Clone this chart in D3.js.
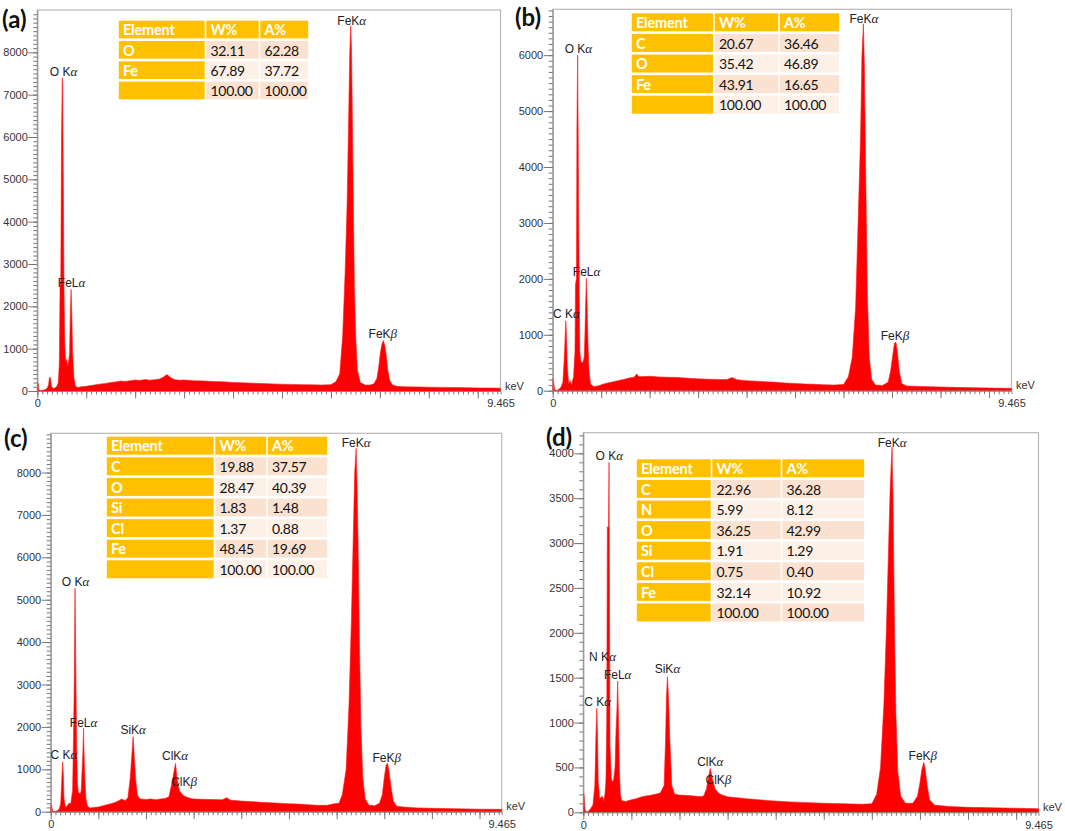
<!DOCTYPE html>
<html>
<head>
<meta charset="utf-8">
<title>EDS spectra</title>
<script src="https://d3js.org/d3.v7.min.js"></script>
<style>
  body { margin: 0; background: #fff; }
  svg { display: block; }
  .tick text { font-family: "Liberation Sans", Arial, sans-serif; font-size: 11px; fill: #333; }
  .kev { font-family: "Liberation Sans", Arial, sans-serif; font-size: 11px; fill: #333; }
  .peak { font-family: "Liberation Sans", Arial, sans-serif; font-size: 12px; fill: #222; }
  .peak .gr { font-family: "Liberation Serif", serif; font-style: italic; font-size: 13px; }
  .tag { font-family: Lato, sans-serif; font-weight: bold; font-size: 24px; fill: #111; }
  .cell { font-family: Lato, sans-serif; font-size: 14px; letter-spacing: -0.3px; fill: #111; }
  .cell.hd { font-weight: bold; font-size: 14.5px; letter-spacing: -0.2px; fill: #fff; }
</style>
</head>
<body>
<svg id="chart" width="1065" height="831"></svg>
<script>
// energy range of every spectrum (keV)
const keVMax = 9.465;

// spectra: [keV, counts]
const specA = [
  [0,0],[0.005,210],[0.02,180],[0.035,30],[0.06,0],[0.1,15],[0.15,30],[0.2,60],[0.23,150],[0.25,330],[0.27,300],[0.29,110],
  [0.32,60],[0.36,70],[0.4,110],[0.43,200],[0.45,650],[0.465,2450],[0.48,2600],[0.495,6000],[0.51,7400],[0.52,7200],
  [0.525,6000],[0.535,4400],[0.545,2500],[0.555,1500],[0.565,1000],[0.58,700],[0.6,750],[0.62,580],[0.64,700],[0.66,900],
  [0.675,1850],[0.69,2400],[0.705,1850],[0.72,950],[0.735,600],[0.75,300],[0.78,120],[0.82,80],[0.9,100],[1.0,110],
  [1.1,130],[1.2,150],[1.3,165],[1.4,180],[1.5,200],[1.6,215],[1.7,235],[1.8,225],[1.9,245],[2.0,260],[2.1,250],[2.2,272],
  [2.3,255],[2.4,268],[2.5,282],[2.58,330],[2.65,390],[2.72,320],[2.8,270],[2.9,255],[3.0,262],[3.2,242],[3.4,238],
  [3.6,222],[3.8,216],[4.0,202],[4.2,192],[4.4,186],[4.6,176],[4.8,168],[5.0,160],[5.2,156],[5.4,150],[5.6,146],[5.8,140],
  [6.0,150],[6.1,220],[6.18,400],[6.24,1300],[6.29,2800],[6.33,4400],[6.36,6300],[6.385,8000],[6.405,8630],[6.42,8100],
  [6.44,6300],[6.46,4200],[6.48,2400],[6.51,1200],[6.54,500],[6.6,200],[6.7,140],[6.8,140],[6.88,170],[6.94,300],
  [6.98,600],[7.01,900],[7.04,1100],[7.07,1190],[7.1,1080],[7.13,850],[7.16,500],[7.2,250],[7.26,140],[7.35,110],
  [7.5,100],[7.8,95],[8.0,90],[8.3,85],[8.6,80],[9.0,72],[9.3,70],[9.465,65]
];
const specB = [
  [0,0],[0.005,220],[0.02,160],[0.04,20],[0.08,0],[0.12,20],[0.17,60],[0.21,150],[0.24,600],[0.27,1250],[0.285,1000],
  [0.3,450],[0.33,120],[0.36,180],[0.39,100],[0.43,250],[0.46,700],[0.47,1900],[0.49,2000],[0.5,4700],[0.515,6000],
  [0.525,4700],[0.535,3300],[0.55,1500],[0.56,700],[0.58,520],[0.62,500],[0.65,600],[0.665,1000],[0.68,1550],[0.695,2010],
  [0.71,1550],[0.73,800],[0.75,350],[0.78,120],[0.85,70],[0.95,90],[1.05,120],[1.2,150],[1.35,180],[1.5,210],[1.6,232],
  [1.68,242],[1.73,300],[1.78,250],[1.9,252],[2.0,258],[2.2,246],[2.4,240],[2.6,236],[2.8,222],[3.0,212],[3.2,206],
  [3.4,202],[3.6,200],[3.7,235],[3.8,196],[4.0,180],[4.2,170],[4.4,160],[4.6,150],[4.8,136],[5.0,130],[5.2,120],
  [5.4,115],[5.6,105],[5.8,100],[6.0,110],[6.1,250],[6.18,600],[6.25,1500],[6.3,3000],[6.35,4500],[6.38,6000],[6.41,6560],
  [6.43,5800],[6.46,3700],[6.49,1800],[6.53,600],[6.58,200],[6.66,100],[6.8,95],[6.92,150],[6.97,350],[7.01,600],
  [7.05,850],[7.08,870],[7.11,700],[7.15,350],[7.2,130],[7.3,85],[7.6,75],[8.0,65],[8.5,55],[9.0,48],[9.465,42]
];
const specC = [
  [0,0],[0.005,170],[0.02,140],[0.04,20],[0.08,0],[0.13,20],[0.18,60],[0.21,200],[0.23,700],[0.25,1180],[0.265,900],
  [0.28,300],[0.31,100],[0.35,140],[0.38,200],[0.42,180],[0.46,500],[0.48,1850],[0.495,3100],[0.51,5270],[0.52,4300],
  [0.53,3100],[0.545,1500],[0.56,700],[0.58,450],[0.62,420],[0.64,500],[0.66,1000],[0.675,1400],[0.69,1970],[0.7,1400],
  [0.72,700],[0.74,300],[0.77,140],[0.82,90],[0.9,100],[1.0,110],[1.1,140],[1.2,170],[1.3,200],[1.4,240],[1.49,300],
  [1.56,260],[1.62,330],[1.67,800],[1.7,1300],[1.73,1770],[1.75,1400],[1.78,800],[1.82,380],[1.88,300],[2.0,290],
  [2.1,302],[2.2,282],[2.3,300],[2.4,310],[2.48,350],[2.54,650],[2.58,900],[2.62,1140],[2.65,800],[2.7,500],[2.78,380],
  [2.84,350],[2.9,322],[3.0,302],[3.2,292],[3.4,286],[3.6,280],[3.69,330],[3.78,270],[4.0,250],[4.2,240],[4.4,222],
  [4.6,212],[4.8,200],[5.0,186],[5.2,180],[5.4,166],[5.6,150],[5.8,150],[5.95,190],[6.05,200],[6.12,400],[6.2,1000],
  [6.26,2500],[6.31,4500],[6.35,6500],[6.38,8000],[6.41,8570],[6.43,7700],[6.45,6400],[6.48,4000],[6.51,2000],[6.55,800],
  [6.6,300],[6.68,150],[6.8,140],[6.9,200],[6.96,400],[7.0,800],[7.04,1100],[7.07,1140],[7.1,950],[7.14,600],[7.19,250],
  [7.26,130],[7.4,110],[7.7,90],[8.0,80],[8.5,70],[9.0,60],[9.465,55]
];
const specD = [
  [0,0],[0.005,220],[0.02,180],[0.04,20],[0.08,0],[0.14,30],[0.2,80],[0.24,300],[0.26,800],[0.28,1160],[0.295,900],
  [0.31,350],[0.34,150],[0.37,170],[0.4,175],[0.42,120],[0.45,200],[0.47,350],[0.487,1000],[0.5,3180],[0.525,3180],
  [0.535,3900],[0.545,2440],[0.555,750],[0.58,400],[0.6,340],[0.63,360],[0.66,500],[0.68,900],[0.7,1150],[0.715,1463],
  [0.73,1100],[0.75,500],[0.77,200],[0.8,130],[0.88,120],[1.0,140],[1.1,152],[1.2,170],[1.3,182],[1.4,190],[1.5,202],
  [1.6,215],[1.68,300],[1.71,800],[1.73,1300],[1.75,1510],[1.77,1300],[1.8,800],[1.84,300],[1.9,200],[2.0,192],[2.2,186],
  [2.4,176],[2.5,180],[2.56,260],[2.6,380],[2.64,490],[2.68,380],[2.74,260],[2.82,210],[2.9,190],[3.0,172],[3.2,162],
  [3.4,150],[3.6,142],[3.8,132],[4.0,125],[4.3,116],[4.6,110],[5.0,100],[5.4,95],[5.8,90],[6.0,95],[6.1,200],[6.18,500],
  [6.25,1200],[6.3,2000],[6.35,3000],[6.38,3600],[6.42,4070],[6.44,3500],[6.47,2100],[6.5,1100],[6.54,450],[6.6,180],
  [6.7,100],[6.85,100],[6.95,180],[7.0,330],[7.04,480],[7.08,557],[7.11,480],[7.15,300],[7.2,140],[7.3,80],[7.6,65],
  [8.0,55],[8.5,50],[9.0,45],[9.465,40]
];

// y tick labels
const yTicksA = [0,1000,2000,3000,4000,5000,6000,7000,8000];
const yTicksB = [0,1000,2000,3000,4000,5000,6000];
const yTicksC = [0,1000,2000,3000,4000,5000,6000,7000,8000];
const yTicksD = [0,500,1000,1500,2000,2500,3000,3500,4000];

// composition tables
const tableA = [["Element","W%","A%"],["O","32.11","62.28"],["Fe","67.89","37.72"],["","100.00","100.00"]];
const tableB = [["Element","W%","A%"],["C","20.67","36.46"],["O","35.42","46.89"],["Fe","43.91","16.65"],["","100.00","100.00"]];
const tableC = [["Element","W%","A%"],["C","19.88","37.57"],["O","28.47","40.39"],["Si","1.83","1.48"],["Cl","1.37","0.88"],
  ["Fe","48.45","19.69"],["","100.00","100.00"]];
const tableD = [["Element","W%","A%"],["C","22.96","36.28"],["N","5.99","8.12"],["O","36.25","42.99"],["Si","1.91","1.29"],
  ["Cl","0.75","0.40"],["Fe","32.14","10.92"],["","100.00","100.00"]];

// peak labels: [text, keV, counts]
const peaksA = [["O Kα",0.535,7450],["FeLα",0.7,2450],["FeKα",6.425,8655],["FeKβ",7.06,1250]];
const peaksB = [["O Kα",0.53,6040],["FeLα",0.7,2050],["C Kα",0.285,1300],["FeKα",6.42,6570],["FeKβ",7.06,905]];
const peaksC = [["O Kα",0.52,5320],["FeLα",0.69,2000],["C Kα",0.275,1240],["SiKα",1.73,1830],["ClKα",2.61,1220],
  ["ClKβ",2.8,610],["FeKα",6.41,8610],["FeKβ",7.05,1180]];
const peaksD = [["O Kα",0.54,3925],["N Kα",0.4,1685],["FeLα",0.715,1485],["C Kα",0.3,1190],["SiKα",1.75,1550],
  ["ClKα",2.64,520],["ClKβ",2.81,315],["FeKα",6.42,4070],["FeKβ",7.06,583]];

const panels = [
  { tag: "(a)", spec: specA, yTicks: yTicksA, table: tableA, peaks: peaksA, yMax: 9000,
    x0: 37.3, x1: 500.5, top: 10, zero: 391, tagX: 2, tagY: 28, cols: [118, 205.5, 259.5, 309], tblTop: 20.7, pitch: 20.3 },
  { tag: "(b)", spec: specB, yTicks: yTicksB, table: tableB, peaks: peaksB, yMax: 6820,
    x0: 552.7, x1: 1011.5, top: 9.3, zero: 390.7, tagX: 515, tagY: 26, cols: [631, 714, 779, 840], tblTop: 13.3, pitch: 20.6 },
  { tag: "(c)", spec: specC, yTicks: yTicksC, table: tableC, peaks: peaksC, yMax: 8925,
    x0: 50.7, x1: 501.7, top: 433.3, zero: 811.7, tagX: 4, tagY: 447, cols: [106, 214.5, 267, 328], tblTop: 436.7, pitch: 20.6 },
  { tag: "(d)", spec: specD, yTicks: yTicksD, table: tableD, peaks: peaksD, yMax: 4230,
    x0: 583.3, x1: 1038.5, top: 432.7, zero: 812.3, tagX: 546, tagY: 446, cols: [636, 711.5, 781.5, 865], tblTop: 459.3, pitch: 20.6 }
];

const svg = d3.select("#chart");

panels.forEach(p => {
  const g = svg.append("g");
  const x = d3.scaleLinear().domain([0, keVMax]).range([p.x0, p.x1]);
  const y = d3.scaleLinear().domain([0, p.yMax]).range([p.zero, p.top]);

  // frame
  g.append("rect")
    .attr("x", p.x0).attr("y", p.top)
    .attr("width", p.x1 - p.x0).attr("height", p.zero - p.top)
    .attr("fill", "none").attr("stroke", "#b8b8b8").attr("stroke-width", 1.2);

  // spectrum
  const area = d3.area().x(d => x(d[0])).y0(y(0)).y1(d => y(d[1]));
  g.append("path").datum(p.spec)
    .attr("d", area)
    .attr("fill", "#ff0000").attr("stroke", "#ff1a1a").attr("stroke-width", 0.6);

  // y axis: minor ticks every 100, major ticks with labels
  g.append("g").attr("transform", `translate(${p.x0},0)`).attr("color", "#777")
    .call(d3.axisLeft(y).tickValues(d3.range(0, p.yMax, 100)).tickSize(4).tickFormat(""))
    .call(s => s.select(".domain").remove());
  g.append("g").attr("transform", `translate(${p.x0},0)`).attr("color", "#777")
    .call(d3.axisLeft(y).tickValues(p.yTicks).tickSize(9).tickPadding(0.5).tickSizeOuter(0).tickFormat(d3.format("d")))
    .call(s => s.select(".domain").attr("stroke", "#888"));

  // x axis: minor 0.1 keV, major 1 keV, end labels
  g.append("g").attr("transform", `translate(0,${p.zero})`).attr("color", "#777")
    .call(d3.axisBottom(x).tickValues(d3.range(0, keVMax, 0.1)).tickSize(3.5).tickFormat(""))
    .call(s => s.select(".domain").attr("stroke", "#888"));
  g.append("g").attr("transform", `translate(0,${p.zero})`).attr("color", "#777")
    .call(d3.axisBottom(x).tickValues(d3.range(0, 10, 1).filter(v => v <= keVMax)).tickSize(7.5).tickFormat(""))
    .call(s => s.select(".domain").remove());
  g.append("g").attr("transform", `translate(0,${p.zero})`)
    .call(d3.axisBottom(x).tickValues([0, keVMax]).tickSize(0).tickPadding(8.5).tickFormat(d => d === 0 ? "0" : "9.465"))
    .call(s => s.select(".domain").remove());

  g.append("text").attr("class", "kev")
    .attr("x", p.x1 + 4.5).attr("y", p.zero - 1.5).text("keV");

  // peak labels
  p.peaks.forEach(([t, k, c]) => {
    const tx = g.append("text").attr("class", "peak")
      .attr("x", x(k)).attr("y", y(c)).attr("text-anchor", "middle");
    tx.append("tspan").text(t.slice(0, -1));
    tx.append("tspan").attr("class", "gr").text(t.slice(-1));
  });

  // composition table
  const tg = g.append("g");
  p.table.forEach((row, r) => {
    const ry = p.tblTop + r * p.pitch;
    row.forEach((val, c) => {
      const orange = r === 0 || c === 0;
      const fill = orange ? "#ffc000" : (r % 2 === 1 ? "#fbe2d0" : "#fdf0e6");
      tg.append("rect")
        .attr("x", p.cols[c] + 0.8).attr("y", ry)
        .attr("width", p.cols[c + 1] - p.cols[c] - 1.6).attr("height", p.pitch - 2.6)
        .attr("fill", fill);
      tg.append("text")
        .attr("class", orange ? "cell hd" : "cell")
        .attr("x", p.cols[c] + 5).attr("y", ry + 14.6)
        .text(val);
    });
  });

  // panel tag drawn last so it sits on top, as in the reference
  g.append("text").attr("class", "tag").attr("x", p.tagX).attr("y", p.tagY).text(p.tag);
});
</script>
</body>
</html>
